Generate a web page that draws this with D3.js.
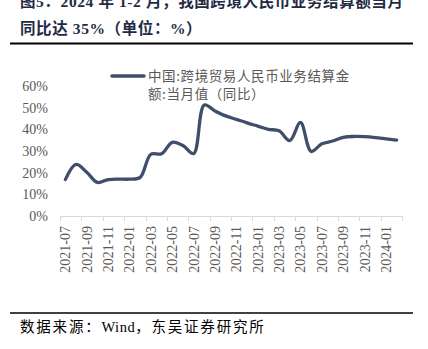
<!DOCTYPE html>
<html><head><meta charset="utf-8">
<script src="https://cdn.jsdelivr.net/npm/d3@7"></script>
<style>
html,body{margin:0;padding:0;background:#fff;}
svg{display:block;}
</style></head>
<body>
<script>
const months = ["2021-07","2021-08","2021-09","2021-10","2021-11","2021-12","2022-01","2022-02","2022-03","2022-04","2022-05","2022-06","2022-07","2022-08","2022-09","2022-10","2022-11","2022-12","2023-01","2023-02","2023-03","2023-04","2023-05","2023-06","2023-07","2023-08","2023-09","2023-10","2023-11","2023-12","2024-01","2024-02"];
const values = [16.8,23.8,20.2,15.5,16.8,17.0,17.0,17.8,28.5,28.7,34.0,32.5,28.8,51.2,48.5,46.2,44.6,43.0,41.5,40.0,39.3,34.8,43.2,29.8,33.3,34.6,36.3,36.7,36.6,36.2,35.6,35.0];
const yTicks = [0,10,20,30,40,50,60];
const xLabels = months.filter((m,i)=>i%2===0);
const seriesName = ["中国:跨境贸易人民币业务结算金","额:当月值（同比）"];
const titleLines = ["图5：2024 年 1-2 月，我国跨境人民币业务结算额当月","同比达 35%（单位：%）"];
const sourceParts = ["数据来源：","Wind","，东吴证券研究所"];

const W=428,H=349;
const svg=d3.select("body").append("svg").attr("width",W).attr("height",H);
const serif="'Liberation Serif','Times New Roman',serif";
const cjk="'Noto Sans CJK SC',sans-serif";

// title
svg.append("g").selectAll("text").data(titleLines).join("text")
  .attr("x",20).attr("y",(d,i)=>7+i*27)
  .attr("font-family",serif+","+cjk).attr("font-weight","bold").attr("font-size",15.5)
  .attr("letter-spacing",0.6)
  .attr("fill","#1f2a44").text(d=>d);
svg.append("line").attr("x1",10).attr("x2",413).attr("y1",43.5).attr("y2",43.5).attr("stroke","#000").attr("stroke-width",2);
svg.append("line").attr("x1",10).attr("x2",413).attr("y1",313).attr("y2",313).attr("stroke","#000").attr("stroke-width",1.5);
const src=svg.append("text").attr("x",20).attr("y",332).attr("font-size",14.5).attr("fill","#000");
src.selectAll("tspan").data(sourceParts).join("tspan")
  .attr("font-family",(d,i)=>i===1?serif:cjk)
  .attr("letter-spacing",(d,i)=>i===1?0.5:1.8)
  .text(d=>d);

const x=d3.scaleBand().domain(months).range([60,402]);
const y=d3.scaleLinear().domain([0,60]).range([216,86]);

// y axis labels
svg.append("g").selectAll("text").data(yTicks).join("text")
  .attr("x",48).attr("y",d=>y(d)).attr("dy","0.35em").attr("text-anchor","end")
  .attr("font-family",serif).attr("font-size",14).attr("fill","#595959").text(d=>d+"%");

// x axis
const ax=svg.append("g");
ax.append("line").attr("x1",60).attr("x2",402).attr("y1",216.5).attr("y2",216.5).attr("stroke","#d9d9d9").attr("stroke-width",1);
const tickPos=d3.range(0,months.length+1,2).map(i=>60+i*x.step());
ax.selectAll("line.t").data(tickPos).join("line").attr("class","t")
  .attr("x1",d=>Math.round(d)+0.5).attr("x2",d=>Math.round(d)+0.5).attr("y1",216).attr("y2",221).attr("stroke","#d9d9d9");
ax.selectAll("text").data(xLabels).join("text")
  .attr("transform",d=>`translate(${x(d)+x.bandwidth()/2},226) rotate(-90)`)
  .attr("text-anchor","end").attr("dy","0.35em")
  .attr("font-family",serif).attr("font-size",14).attr("fill","#595959").text(d=>d);

// line
const line=d3.line().x((d,i)=>x(months[i])+x.bandwidth()/2).y(d=>y(d)).curve(d3.curveCatmullRom.alpha(0.5));
svg.append("path").datum(values).attr("d",line).attr("fill","none").attr("stroke","#3f4f6b").attr("stroke-width",3.3).attr("stroke-linejoin","round").attr("stroke-linecap","round");

// legend
svg.append("line").attr("x1",112).attr("x2",144).attr("y1",76).attr("y2",76).attr("stroke","#3f4f6b").attr("stroke-width",3.5).attr("stroke-linecap","round");
svg.append("g").selectAll("text").data(seriesName).join("text")
  .attr("x",148).attr("y",(d,i)=>76+i*18).attr("dy","0.35em")
  .attr("font-family",cjk).attr("font-size",13.5).attr("letter-spacing",0.6).attr("fill","#595959").text(d=>d);
</script>
</body></html>
